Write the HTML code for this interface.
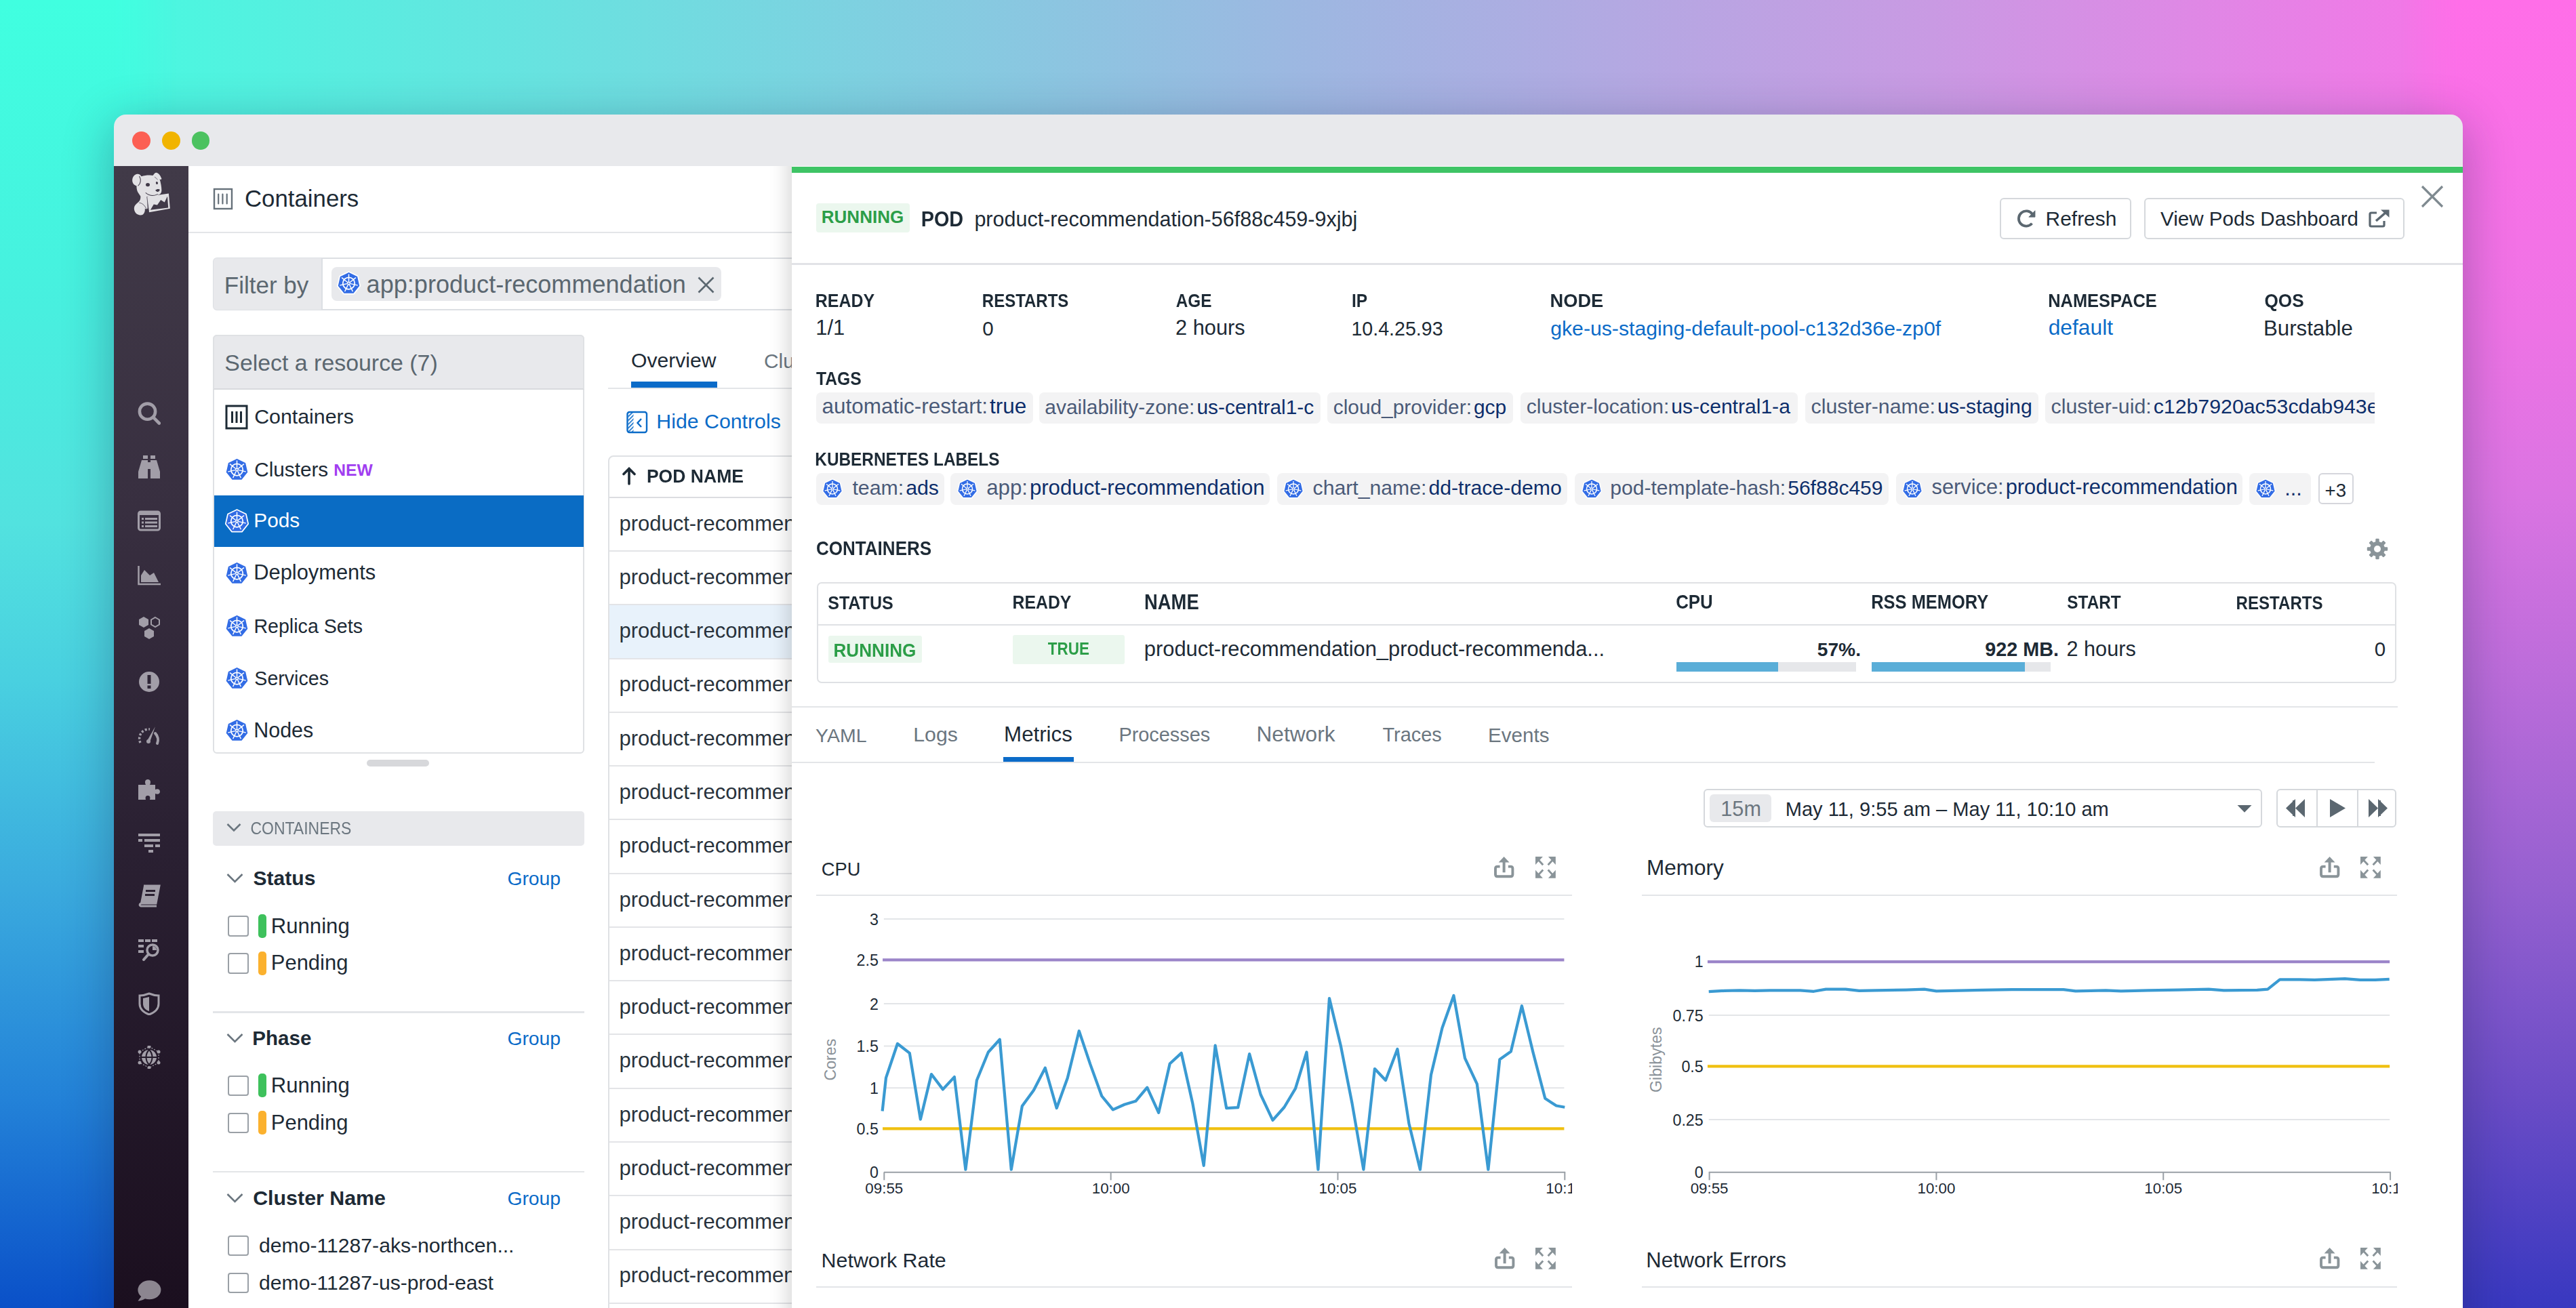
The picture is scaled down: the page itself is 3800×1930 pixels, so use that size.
<!DOCTYPE html>
<html><head><meta charset="utf-8"><title>Containers</title>
<style>
html,body{margin:0;padding:0;}
body{width:3800px;height:1930px;position:relative;overflow:hidden;background:#8fb0e0;font-family:"Liberation Sans",sans-serif;}
.a{position:absolute;}
.t{position:absolute;line-height:1;white-space:nowrap;}
</style></head><body>
<svg width="0" height="0" style="position:absolute"><symbol id="k8s" viewBox="0 0 100 100">
<path d="M50.0 3.0 L88.3 21.4 L97.8 62.9 L71.3 96.1 L28.7 96.1 L2.2 62.9 L11.7 21.4 Z" fill="#326ce5" stroke="#fff" stroke-width="5" stroke-linejoin="round"/>
<g stroke="#fff" fill="none" stroke-linecap="round">
<circle cx="50" cy="51.5" r="25" stroke-width="5"/>
<path d="M50.0 43.5 L50.0 14.5 M56.3 46.5 L78.9 28.4 M57.8 53.3 L86.1 59.7 M53.5 58.7 L66.1 84.8 M46.5 58.7 L33.9 84.8 M42.2 53.3 L13.9 59.7 M43.7 46.5 L21.1 28.4" stroke-width="4.2"/>
</g>
<circle cx="50" cy="51.5" r="7" fill="#fff"/>
<circle cx="50" cy="51.5" r="3" fill="#326ce5"/>
</symbol></svg>
<div class="a" style="left:0;top:0;width:3800px;height:200px;background:linear-gradient(90deg,#40ffe0 0%,#6fdde0 25%,#9cb8e1 50%,#c99ae3 75%,#ff6de8 100%)"></div>
<div class="a" style="left:0;top:0;width:260px;height:1930px;background:linear-gradient(180deg,#40ffe0 0%,#46f2df 20%,#52e2df 40%,#49d0e0 52%,#3aaade 68%,#2382d8 84%,#0a50c8 100%);-webkit-mask-image:linear-gradient(90deg,#000 65%,transparent 100%)"></div>
<div class="a" style="left:3540px;top:0;width:260px;height:1930px;background:linear-gradient(180deg,#ff6ee8 0%,#f871e7 12%,#ee73e5 25%,#da74e2 38%,#bb6cda 52%,#9560d0 68%,#6a4cc6 84%,#3838c0 100%);-webkit-mask-image:linear-gradient(270deg,#000 65%,transparent 100%)"></div>
<div class="a" style="left:168px;top:169px;width:3465px;height:1900px;border-radius:18px;box-shadow:0 16px 70px 4px rgba(20,30,70,0.30)"></div>
<div class="a" style="left:168px;top:169px;width:3465px;height:1800px;border-radius:18px 18px 0 0;background:#e8e9ec;overflow:hidden"></div>
<div class="a" style="left:194.8px;top:194.3px;width:26.8px;height:26.8px;border-radius:50%;background:#fc5f53"></div>
<div class="a" style="left:238.8px;top:194.3px;width:26.8px;height:26.8px;border-radius:50%;background:#f1b400"></div>
<div class="a" style="left:282.6px;top:194.3px;width:26.8px;height:26.8px;border-radius:50%;background:#4cc260"></div>
<div class="a" style="left:168.0px;top:245.0px;width:110.0px;height:1685.0px;background:linear-gradient(180deg,#413a48 0%,#382f40 30%,#2a2032 60%,#1b0f1f 100%)"></div>
<div class="a" style="left:278.0px;top:245.0px;width:890.0px;height:1685.0px;background:#fff"></div>
<svg class="a" style="left:180.0px;top:245.0px;" width="90" height="85" viewBox="0 0 1385 1308">
<g fill="#e2e1e4">
<path d="M330 185 C380 170 420 200 440 235 C520 205 640 200 700 215 L740 165 C790 120 860 180 900 290 L880 310 L855 295 C880 380 900 480 898 560 C895 610 870 640 820 655 L800 660 C720 705 640 700 575 690 L580 960 C560 985 530 975 520 960 C530 1060 480 1120 420 1115 C330 1110 270 1040 275 950 C280 900 320 860 370 820 C410 790 425 740 420 690 C400 640 345 600 335 520 C330 490 330 460 330 450 C260 430 225 370 235 300 C245 240 285 195 330 185 Z"/>
<path d="M560 695 L1060 625 L1090 965 L615 1050 Z"/>
</g>
<g fill="#413a48">
<ellipse cx="585" cy="425" rx="46" ry="40"/>
<ellipse cx="792" cy="385" rx="24" ry="32" transform="rotate(-15 792 385)"/>
<path d="M758 548 C790 515 845 518 858 540 C852 572 822 592 800 586 C780 580 760 566 758 548 Z"/>
</g>
<g stroke="#413a48" fill="none" stroke-linecap="round">
<path d="M395 235 C432 300 432 390 368 445" stroke-width="16"/>
<path d="M745 250 C770 270 790 290 805 305" stroke-width="11"/>
<path d="M540 610 C600 660 690 700 805 640" stroke-width="16"/>
<path d="M395 835 C450 840 510 880 545 960" stroke-width="12"/>
<path d="M566 700 L605 1030" stroke-width="12"/>
</g>
<path d="M645 995 L720 870 L800 885 L880 770 L965 825 L1030 690 L1050 945 Z" fill="#413a48"/>
</svg>
<svg class="a" style="left:203.0px;top:593.0px;" width="34" height="34" viewBox="0 0 34 34"><circle cx="14.5" cy="14.2" r="11.6" fill="none" stroke="#a29ea8" stroke-width="4.6"/><path d="M23.5 23.2 L31.8 31.5" stroke="#a29ea8" stroke-width="4.6" stroke-linecap="round"/></svg>
<svg class="a" style="left:203.0px;top:672.0px;" width="34" height="34" viewBox="0 0 34 34"><g fill="#a29ea8"><rect x="8" y="0" width="7" height="5"/><rect x="19" y="0" width="7" height="5"/><path d="M6 7 L15 7 L15 35 L1 35 L1 24 Z"/><path d="M19 7 L28 7 L33 24 L33 35 L19 35 Z"/><rect x="15" y="10" width="4" height="10"/></g></svg>
<svg class="a" style="left:203.0px;top:752.0px;" width="34" height="34" viewBox="0 0 34 34"><rect x="1.5" y="3" width="31" height="27" rx="3" fill="none" stroke="#a29ea8" stroke-width="3"/><rect x="1.5" y="3" width="31" height="5" fill="#a29ea8"/><g fill="#a29ea8"><rect x="6" y="12" width="3" height="3"/><rect x="11" y="12" width="18" height="3"/><rect x="6" y="17.5" width="3" height="3"/><rect x="11" y="17.5" width="18" height="3"/><rect x="6" y="23" width="3" height="3"/><rect x="11" y="23" width="18" height="3"/></g></svg>
<svg class="a" style="left:203.0px;top:831.0px;" width="34" height="34" viewBox="0 0 34 34"><path d="M1.5 4 L1.5 31 L34 31" fill="none" stroke="#a29ea8" stroke-width="2.5"/><path d="M5 28 L5 18 L10 10 L18 18 L24 14 L31 28 Z" fill="#a29ea8"/></svg>
<svg class="a" style="left:203.0px;top:909.0px;" width="34" height="34" viewBox="0 0 34 34"><g fill="#a29ea8"><path d="M9 1 L16 5 L16 13 L9 17 L2 13 L2 5 Z"/><path d="M17 18 L24 22 L24 30 L17 34 L10 30 L10 22 Z"/></g><path d="M26 2 L32 5.5 L32 12.5 L26 16 L20 12.5 L20 5.5 Z" fill="none" stroke="#a29ea8" stroke-width="2"/></svg>
<svg class="a" style="left:203.0px;top:988.6px;" width="34" height="34" viewBox="0 0 34 34"><circle cx="17" cy="17" r="15" fill="#a29ea8"/><rect x="14.5" y="7" width="5" height="13" fill="#2f2637"/><rect x="14.5" y="22.5" width="5" height="4.5" fill="#2f2637"/></svg>
<svg class="a" style="left:203.0px;top:1068.0px;" width="34" height="34" viewBox="0 0 34 34"><path d="M4 28 A14 14 0 0 1 18 8" fill="none" stroke="#a29ea8" stroke-width="3.5" stroke-dasharray="3 2.5"/><path d="M26 14 A14 14 0 0 1 29 29" fill="none" stroke="#a29ea8" stroke-width="4" stroke-linecap="round"/><path d="M14 25 L26 4 L18 27 Z" fill="#a29ea8"/><circle cx="16" cy="26" r="3" fill="#a29ea8"/></svg>
<svg class="a" style="left:203.0px;top:1147.7px;" width="34" height="34" viewBox="0 0 34 34"><path d="M1 10 L12 10 C10 6 11 2 15 2 C19 2 20 6 18 10 L26 10 L26 17 C30 15 33 17 33 20 C33 23 30 25 26 23 L26 32 L18 32 C19 28 18 26 15 26 C12 26 11 28 12 32 L1 32 Z" fill="#a29ea8"/></svg>
<svg class="a" style="left:203.0px;top:1226.5px;" width="34" height="34" viewBox="0 0 34 34"><g fill="#a29ea8"><rect x="1" y="3" width="32" height="4"/><rect x="1" y="11" width="6" height="4"/><rect x="10" y="11" width="23" height="4"/><rect x="10" y="19" width="13" height="4"/><rect x="26" y="19" width="7" height="4"/><rect x="16" y="27" width="7" height="4"/></g></svg>
<svg class="a" style="left:203.0px;top:1304.5px;" width="34" height="34" viewBox="0 0 34 34"><path d="M9 2 L32 2 L27 28 L6 28 C3 28 2 31 5 32 L28 32" fill="none" stroke="#a29ea8" stroke-width="3"/><path d="M9 2 L32 2 L27 28 L4 28 Z" fill="#a29ea8"/><g fill="#2a2030"><rect x="12" y="8" width="14" height="3"/><rect x="11" y="14" width="14" height="3"/></g></svg>
<svg class="a" style="left:203.0px;top:1384.0px;" width="34" height="34" viewBox="0 0 34 34"><g fill="#a29ea8"><rect x="1" y="2" width="8" height="4"/><rect x="11" y="2" width="8" height="4"/><rect x="21" y="2" width="8" height="4"/><rect x="1" y="10" width="8" height="4"/><rect x="1" y="18" width="8" height="4"/></g><circle cx="22" cy="18" r="8" fill="none" stroke="#a29ea8" stroke-width="3.5"/><path d="M16 24 L9 32" stroke="#a29ea8" stroke-width="4" stroke-linecap="round"/><path d="M22 12 A6 6 0 0 1 28 18 L22 18 Z" fill="#a29ea8"/></svg>
<svg class="a" style="left:203.0px;top:1463.5px;" width="34" height="34" viewBox="0 0 34 34"><path d="M17 2 C22 4 27 5 31 5 L31 17 C31 25 25 30 17 33 C9 30 3 25 3 17 L3 5 C7 5 12 4 17 2 Z" fill="none" stroke="#a29ea8" stroke-width="3"/><path d="M17 7 L17 28 C11 26 8 22 8 17 L8 9 Z" fill="#a29ea8"/></svg>
<svg class="a" style="left:203.0px;top:1543.0px;" width="34" height="34" viewBox="0 0 34 34"><circle cx="17" cy="17" r="11" fill="#a29ea8"/><path d="M6 17 L28 17 M17 6 C11 12 11 22 17 28 M17 6 C23 12 23 22 17 28" stroke="#231a2a" stroke-width="2" fill="none"/><g fill="#a29ea8"><circle cx="17" cy="1.5" r="2.5"/><circle cx="17" cy="32.5" r="2.5"/><circle cx="3" cy="9" r="2.5"/><circle cx="31" cy="9" r="2.5"/><circle cx="3" cy="25" r="2.5"/><circle cx="31" cy="25" r="2.5"/></g><path d="M17 1.5 L31 9 L31 25 L17 32.5 L3 25 L3 9 Z" fill="none" stroke="#a29ea8" stroke-width="1.2" stroke-dasharray="2 2"/></svg>
<svg class="a" style="left:200.0px;top:1885.0px;" width="40" height="40" viewBox="0 0 40 40"><ellipse cx="20.4" cy="18.3" rx="17" ry="14" fill="#8c8690"/><path d="M9 27 L3.5 34.5 C9 34.5 13 32 16 30 Z" fill="#8c8690"/></svg>
<svg class="a" style="left:313.0px;top:276.0px;" width="32" height="35" viewBox="0 0 32 35"><rect x="3" y="3" width="26" height="29" fill="none" stroke="#66717a" stroke-width="2.4"/><g stroke="#66717a" stroke-width="2.2" stroke-linecap="round"><path d="M9.2 10.5 V24.5 M15.4 10.5 V24.5 M21.7 10.5 V24.5"/></g></svg>
<div class="t" style="left:360.9px;top:276.0px;font-size:34.82px;color:#1d2a35;font-weight:400;">Containers</div>
<div class="a" style="left:278.0px;top:341.5px;width:890.0px;height:2.0px;background:#e3e5e8"></div>
<div class="a" style="left:314.0px;top:380.0px;width:986.0px;height:78.0px;border:2px solid #dcdfe3;border-radius:6px;box-sizing:border-box;background:#fff"></div>
<div class="a" style="left:315.0px;top:381.0px;width:159.0px;height:76.0px;background:#e8e9ec;border-radius:5px 0 0 5px;border-right:2px solid #dcdfe3"></div>
<div class="t" style="left:330.8px;top:402.9px;font-size:34.99px;color:#5b6770;font-weight:400;">Filter by</div>
<div class="a" style="left:489.0px;top:394.0px;width:575.0px;height:50.0px;background:#e8e9ec;border-radius:8px"></div>
<svg class="a" style="left:497.4px;top:400.1px" width="35" height="35" viewBox="0 0 100 100"><use href="#k8s"/></svg>
<div class="t" style="left:540.6px;top:401.9px;font-size:36.08px;color:#5b6770;font-weight:400;">app:product-recommendation</div>
<svg class="a" style="left:1028.0px;top:407.0px;" width="27" height="27" viewBox="0 0 27 27"><path d="M2.5 2.5 L24.5 24.5 M24.5 2.5 L2.5 24.5" stroke="#5b6770" stroke-width="2.6"/></svg>
<div class="a" style="left:314.0px;top:493.5px;width:548.0px;height:618.0px;border:2px solid #dfe1e4;border-radius:6px;box-sizing:border-box;background:#fff"></div>
<div class="a" style="left:314.0px;top:493.5px;width:548.0px;height:81.0px;background:#e8e9ec;border-radius:6px 6px 0 0;border:2px solid #dfe1e4;border-bottom:2px solid #d8dadd;box-sizing:border-box"></div>
<div class="t" style="left:331.3px;top:519.2px;font-size:33.89px;color:#5b6770;font-weight:400;">Select a resource (7)</div>
<div class="a" style="left:315.5px;top:731.0px;width:545.0px;height:75.5px;background:#0a6cc4"></div>
<div class="t" style="left:375.2px;top:599.8px;font-size:30.34px;color:#1d2a35;font-weight:400;">Containers</div>
<svg class="a" style="left:332.0px;top:596.5px;" width="35" height="37" viewBox="0 0 35 37"><rect x="2" y="2" width="30" height="33" fill="none" stroke="#1d2a35" stroke-width="3"/><g stroke="#1d2a35" stroke-width="3"><path d="M10.5 10 V27 M17 10 V27 M23.5 10 V27"/></g></svg>
<div class="t" style="left:375.2px;top:677.5px;font-size:29.72px;color:#1d2a35;font-weight:400;">Clusters</div>
<svg class="a" style="left:331.8px;top:674.8px" width="35" height="35" viewBox="0 0 100 100"><use href="#k8s"/></svg>
<div class="t" style="left:374.3px;top:753.2px;font-size:29.77px;color:#fff;font-weight:400;">Pods</div>
<svg class="a" style="left:331.8px;top:750.5px" width="35" height="35" viewBox="0 0 100 100"><use href="#k8s"/></svg>
<div class="t" style="left:374.2px;top:829.8px;font-size:30.86px;color:#1d2a35;font-weight:400;">Deployments</div>
<svg class="a" style="left:331.8px;top:828.0px" width="35" height="35" viewBox="0 0 100 100"><use href="#k8s"/></svg>
<div class="t" style="left:374.4px;top:909.9px;font-size:28.62px;color:#1d2a35;font-weight:400;">Replica Sets</div>
<svg class="a" style="left:331.8px;top:906.2px" width="35" height="35" viewBox="0 0 100 100"><use href="#k8s"/></svg>
<div class="t" style="left:375.3px;top:986.7px;font-size:28.61px;color:#1d2a35;font-weight:400;">Services</div>
<svg class="a" style="left:331.8px;top:983.0px" width="35" height="35" viewBox="0 0 100 100"><use href="#k8s"/></svg>
<div class="t" style="left:374.3px;top:1061.8px;font-size:30.43px;color:#1d2a35;font-weight:400;">Nodes</div>
<svg class="a" style="left:331.8px;top:1059.7px" width="35" height="35" viewBox="0 0 100 100"><use href="#k8s"/></svg>
<div class="t" style="left:492.3px;top:681.8px;font-size:24.65px;color:#a13ef0;font-weight:700;">NEW</div>
<div class="a" style="left:541.0px;top:1121.0px;width:92.0px;height:9.5px;background:#d7d8db;border-radius:5px"></div>
<div class="a" style="left:314.0px;top:1197.0px;width:548.0px;height:51.0px;background:#e8e9ec;border-radius:5px"></div>
<svg class="a" style="left:333.0px;top:1212.0px;" width="24" height="17" viewBox="0 0 24 17"><path d="M2.5 4 L12 13.5 L21.5 4" fill="none" stroke="#6b767f" stroke-width="2.6"/></svg>
<div class="t" style="left:369.5px;top:1211.5px;font-size:22.97px;color:#6b767f;font-weight:400;transform:scaleY(1.13);transform-origin:0 85%;">CONTAINERS</div>
<svg class="a" style="left:333.0px;top:1287.4px;" width="27" height="17" viewBox="0 0 27 17"><path d="M2.5 3 L13.5 14 L24.5 3" fill="none" stroke="#6b767f" stroke-width="2.6"/></svg>
<div class="t" style="left:373.5px;top:1280.8px;font-size:30.07px;color:#1d2a35;font-weight:700;">Status</div>
<div class="t" style="left:748.4px;top:1282.3px;font-size:28.33px;color:#0b6bc8;font-weight:400;">Group</div>
<div class="a" style="left:336.0px;top:1351.2px;width:31.0px;height:30.5px;border:2px solid #9aa0a6;border-radius:4px;box-sizing:border-box;background:#fff"></div>
<div class="a" style="left:381.0px;top:1348.7px;width:12.0px;height:35.0px;background:#3ec15c;border-radius:5px"></div>
<div class="t" style="left:399.8px;top:1350.7px;font-size:31.12px;color:#1d2a35;font-weight:400;">Running</div>
<div class="a" style="left:336.0px;top:1406.2px;width:31.0px;height:30.5px;border:2px solid #9aa0a6;border-radius:4px;box-sizing:border-box;background:#fff"></div>
<div class="a" style="left:381.0px;top:1403.7px;width:12.0px;height:35.0px;background:#fbb12e;border-radius:5px"></div>
<div class="t" style="left:399.8px;top:1405.9px;font-size:30.96px;color:#1d2a35;font-weight:400;">Pending</div>
<div class="a" style="left:314.0px;top:1492.0px;width:548.0px;height:2.5px;background:#e3e5e8"></div>
<svg class="a" style="left:333.0px;top:1523.0px;" width="27" height="17" viewBox="0 0 27 17"><path d="M2.5 3 L13.5 14 L24.5 3" fill="none" stroke="#6b767f" stroke-width="2.6"/></svg>
<div class="t" style="left:372.3px;top:1516.9px;font-size:29.58px;color:#1d2a35;font-weight:700;">Phase</div>
<div class="t" style="left:748.4px;top:1517.9px;font-size:28.33px;color:#0b6bc8;font-weight:400;">Group</div>
<div class="a" style="left:336.0px;top:1586.8px;width:31.0px;height:30.5px;border:2px solid #9aa0a6;border-radius:4px;box-sizing:border-box;background:#fff"></div>
<div class="a" style="left:381.0px;top:1584.3px;width:12.0px;height:35.0px;background:#3ec15c;border-radius:5px"></div>
<div class="t" style="left:399.8px;top:1586.3px;font-size:31.12px;color:#1d2a35;font-weight:400;">Running</div>
<div class="a" style="left:336.0px;top:1641.8px;width:31.0px;height:30.5px;border:2px solid #9aa0a6;border-radius:4px;box-sizing:border-box;background:#fff"></div>
<div class="a" style="left:381.0px;top:1639.3px;width:12.0px;height:35.0px;background:#fbb12e;border-radius:5px"></div>
<div class="t" style="left:399.8px;top:1641.5px;font-size:30.96px;color:#1d2a35;font-weight:400;">Pending</div>
<div class="a" style="left:314.0px;top:1727.5px;width:548.0px;height:2.5px;background:#e3e5e8"></div>
<svg class="a" style="left:333.0px;top:1758.7px;" width="27" height="17" viewBox="0 0 27 17"><path d="M2.5 3 L13.5 14 L24.5 3" fill="none" stroke="#6b767f" stroke-width="2.6"/></svg>
<div class="t" style="left:373.2px;top:1751.9px;font-size:30.39px;color:#1d2a35;font-weight:700;">Cluster Name</div>
<div class="t" style="left:748.4px;top:1753.6px;font-size:28.33px;color:#0b6bc8;font-weight:400;">Group</div>
<div class="a" style="left:336.0px;top:1822.5px;width:31.0px;height:30.5px;border:2px solid #9aa0a6;border-radius:4px;box-sizing:border-box;background:#fff"></div>
<div class="t" style="left:382.1px;top:1822.9px;font-size:30.15px;color:#1d2a35;font-weight:400;">demo-11287-aks-northcen...</div>
<div class="a" style="left:336.0px;top:1877.5px;width:31.0px;height:30.5px;border:2px solid #9aa0a6;border-radius:4px;box-sizing:border-box;background:#fff"></div>
<div class="t" style="left:382.1px;top:1877.9px;font-size:30.12px;color:#1d2a35;font-weight:400;">demo-11287-us-prod-east</div>
<div class="t" style="left:931.0px;top:517.4px;font-size:30.12px;color:#1d2a35;font-weight:400;">Overview</div>
<div class="t" style="left:1127.1px;top:517.7px;font-size:29.8px;color:#6b767f;font-weight:400;">Clusters</div>
<div class="a" style="left:930.8px;top:563.3px;width:127.2px;height:8.7px;background:#0b6bc8"></div>
<div class="a" style="left:897.0px;top:572.0px;width:271.0px;height:2.0px;background:#e3e5e8"></div>
<svg class="a" style="left:923.0px;top:606.0px;" width="33" height="34" viewBox="0 0 33 34"><defs><pattern id="hatch" width="4" height="4" patternUnits="userSpaceOnUse" patternTransform="rotate(45)"><rect width="1.6" height="4" fill="#0b6bc8"/></pattern></defs><rect x="2.5" y="2" width="28.5" height="30" rx="3" fill="none" stroke="#0b6bc8" stroke-width="2.4"/><rect x="3.5" y="3" width="8" height="28" fill="url(#hatch)"/><path d="M23 12 L17.5 18 L23 24" fill="none" stroke="#0b6bc8" stroke-width="2.4"/></svg>
<div class="t" style="left:968.3px;top:607.2px;font-size:30.3px;color:#0b6bc8;font-weight:400;">Hide Controls</div>
<div class="a" style="left:897.0px;top:671.5px;width:403.0px;height:1318.5px;border:2px solid #dfe1e4;border-radius:8px;box-sizing:border-box;background:#fff"></div>
<svg class="a" style="left:917.0px;top:689.0px;" width="22" height="27" viewBox="0 0 22 27"><path d="M11 25 V3 M3 10.5 L11 2.5 L19 10.5" fill="none" stroke="#1d2a35" stroke-width="3.6" stroke-linecap="round"/></svg>
<div class="t" style="left:953.9px;top:690.4px;font-size:26.55px;color:#1d2a35;font-weight:700;transform:scaleY(1.05);transform-origin:0 85%;">POD NAME</div>
<div class="a" style="left:899.0px;top:733.0px;width:269.0px;height:2.0px;background:#dcdde1"></div>
<div class="a" style="left:899.0px;top:812.1px;width:269.0px;height:2.0px;background:#e3e4e7"></div>
<div class="t" style="left:913.5px;top:756.7px;font-size:30.98px;color:#28323c;font-weight:400;">product-recommendation-56f88c459</div>
<div class="a" style="left:899.0px;top:891.4px;width:269.0px;height:2.0px;background:#e3e4e7"></div>
<div class="t" style="left:913.5px;top:835.9px;font-size:30.98px;color:#28323c;font-weight:400;">product-recommendation-56f88c459</div>
<div class="a" style="left:899.0px;top:893.0px;width:269.0px;height:79.3px;background:#e8f2fb"></div>
<div class="a" style="left:899.0px;top:970.6px;width:269.0px;height:2.0px;background:#e3e4e7"></div>
<div class="t" style="left:913.5px;top:915.2px;font-size:30.98px;color:#28323c;font-weight:400;">product-recommendation-56f88c459</div>
<div class="a" style="left:899.0px;top:1049.9px;width:269.0px;height:2.0px;background:#e3e4e7"></div>
<div class="t" style="left:913.5px;top:994.4px;font-size:30.98px;color:#28323c;font-weight:400;">product-recommendation-56f88c459</div>
<div class="a" style="left:899.0px;top:1129.1px;width:269.0px;height:2.0px;background:#e3e4e7"></div>
<div class="t" style="left:913.5px;top:1073.7px;font-size:30.98px;color:#28323c;font-weight:400;">product-recommendation-56f88c459</div>
<div class="a" style="left:899.0px;top:1208.4px;width:269.0px;height:2.0px;background:#e3e4e7"></div>
<div class="t" style="left:913.5px;top:1153.0px;font-size:30.98px;color:#28323c;font-weight:400;">product-recommendation-56f88c459</div>
<div class="a" style="left:899.0px;top:1287.7px;width:269.0px;height:2.0px;background:#e3e4e7"></div>
<div class="t" style="left:913.5px;top:1232.2px;font-size:30.98px;color:#28323c;font-weight:400;">product-recommendation-56f88c459</div>
<div class="a" style="left:899.0px;top:1366.9px;width:269.0px;height:2.0px;background:#e3e4e7"></div>
<div class="t" style="left:913.5px;top:1311.5px;font-size:30.98px;color:#28323c;font-weight:400;">product-recommendation-56f88c459</div>
<div class="a" style="left:899.0px;top:1446.2px;width:269.0px;height:2.0px;background:#e3e4e7"></div>
<div class="t" style="left:913.5px;top:1390.7px;font-size:30.98px;color:#28323c;font-weight:400;">product-recommendation-56f88c459</div>
<div class="a" style="left:899.0px;top:1525.4px;width:269.0px;height:2.0px;background:#e3e4e7"></div>
<div class="t" style="left:913.5px;top:1470.0px;font-size:30.98px;color:#28323c;font-weight:400;">product-recommendation-56f88c459</div>
<div class="a" style="left:899.0px;top:1604.7px;width:269.0px;height:2.0px;background:#e3e4e7"></div>
<div class="t" style="left:913.5px;top:1549.3px;font-size:30.98px;color:#28323c;font-weight:400;">product-recommendation-56f88c459</div>
<div class="a" style="left:899.0px;top:1684.0px;width:269.0px;height:2.0px;background:#e3e4e7"></div>
<div class="t" style="left:913.5px;top:1628.5px;font-size:30.98px;color:#28323c;font-weight:400;">product-recommendation-56f88c459</div>
<div class="a" style="left:899.0px;top:1763.2px;width:269.0px;height:2.0px;background:#e3e4e7"></div>
<div class="t" style="left:913.5px;top:1707.8px;font-size:30.98px;color:#28323c;font-weight:400;">product-recommendation-56f88c459</div>
<div class="a" style="left:899.0px;top:1842.5px;width:269.0px;height:2.0px;background:#e3e4e7"></div>
<div class="t" style="left:913.5px;top:1787.0px;font-size:30.98px;color:#28323c;font-weight:400;">product-recommendation-56f88c459</div>
<div class="a" style="left:899.0px;top:1921.7px;width:269.0px;height:2.0px;background:#e3e4e7"></div>
<div class="t" style="left:913.5px;top:1866.3px;font-size:30.98px;color:#28323c;font-weight:400;">product-recommendation-56f88c459</div>
<div class="a" style="left:899.0px;top:2001.0px;width:269.0px;height:2.0px;background:#e3e4e7"></div>
<div class="t" style="left:913.5px;top:1945.6px;font-size:30.98px;color:#28323c;font-weight:400;">product-recommendation-56f88c459</div>
<div class="a" style="left:1068px;top:245px;width:2565px;height:1685px;overflow:hidden"><div class="a" style="left:100px;top:-50px;width:2465px;height:1800px;background:#fff;box-shadow:-6px 0 26px rgba(0,0,0,0.16)"></div></div>
<div class="a" style="left:1168.0px;top:245.5px;width:2465.0px;height:9.8px;background:#3ec465"></div>
<div class="a" style="left:1204.0px;top:299.5px;width:138.0px;height:43.8px;background:#ebf7ee;border-radius:4px"></div>
<div class="t" style="left:1211.8px;top:307.3px;font-size:26.03px;color:#2c9e48;font-weight:700;">RUNNING</div>
<div class="t" style="left:1358.7px;top:309.7px;font-size:28.83px;color:#1d2a35;font-weight:700;transform:scaleY(1.06);transform-origin:0 85%;">POD</div>
<div class="t" style="left:1437.4px;top:308.2px;font-size:30.53px;color:#1d2a35;font-weight:400;">product-recommendation-56f88c459-9xjbj</div>
<div class="a" style="left:2950.0px;top:292.0px;width:194.0px;height:61.0px;border:2px solid #d5d8dc;border-radius:6px;box-sizing:border-box;background:#fff"></div>
<svg class="a" style="left:2972.0px;top:304.0px;" width="34" height="34" viewBox="0 0 34 34"><path d="M25.5 25.6 A11.1 11.1 0 1 1 26.1 12.1" fill="none" stroke="#5b6770" stroke-width="3.8"/><path d="M30 6.8 L30 16.2 L20.8 16.2 Z" fill="#5b6770" stroke="#5b6770" stroke-width="0.8" stroke-linejoin="round"/></svg>
<div class="t" style="left:3017.6px;top:307.8px;font-size:29.91px;color:#1d2a35;font-weight:400;">Refresh</div>
<div class="a" style="left:3163.0px;top:292.0px;width:384.0px;height:61.0px;border:2px solid #d5d8dc;border-radius:6px;box-sizing:border-box;background:#fff"></div>
<div class="t" style="left:3187.1px;top:308.1px;font-size:29.55px;color:#1d2a35;font-weight:400;">View Pods Dashboard</div>
<svg class="a" style="left:3493.0px;top:308.0px;" width="34" height="29" viewBox="0 0 34 29"><path d="M13 6 L5 6 Q3 6 3 8 L3 24 Q3 26 5 26 L22 26 Q24 26 24 24 L24 18" fill="none" stroke="#5b6770" stroke-width="3.2"/><path d="M12 18 L27 5" stroke="#5b6770" stroke-width="3.6"/><path d="M19 1.5 L31.5 1.5 L31.5 13 Z" fill="#5b6770"/></svg>
<svg class="a" style="left:3570.0px;top:272.0px;" width="36" height="36" viewBox="0 0 36 36"><path d="M3 3 L33 33 M33 3 L3 33" stroke="#7f8a90" stroke-width="3.2"/></svg>
<div class="a" style="left:1168.0px;top:388.0px;width:2465.0px;height:3.0px;background:#e2e3e7"></div>
<div class="t" style="left:1202.8px;top:432.3px;font-size:24.96px;color:#1d2a35;font-weight:700;transform:scaleY(1.13);transform-origin:0 85%;">READY</div>
<div class="t" style="left:1203.3px;top:469.2px;font-size:30.87px;color:#1d2a35;font-weight:400;">1/1</div>
<div class="t" style="left:1448.8px;top:433.1px;font-size:24.0px;color:#1d2a35;font-weight:700;transform:scaleY(1.13);transform-origin:0 85%;">RESTARTS</div>
<div class="t" style="left:1449.2px;top:470.3px;font-size:29.5px;color:#1d2a35;font-weight:400;">0</div>
<div class="t" style="left:1734.8px;top:432.8px;font-size:24.33px;color:#1d2a35;font-weight:700;transform:scaleY(1.13);transform-origin:0 85%;">AGE</div>
<div class="t" style="left:1734.0px;top:469.2px;font-size:30.77px;color:#1d2a35;font-weight:400;">2 hours</div>
<div class="t" style="left:1993.9px;top:432.7px;font-size:24.5px;color:#1d2a35;font-weight:700;transform:scaleY(1.15);transform-origin:0 85%;">IP</div>
<div class="t" style="left:1993.4px;top:471.1px;font-size:28.61px;color:#1d2a35;font-weight:400;">10.4.25.93</div>
<div class="t" style="left:2286.5px;top:430.3px;font-size:27.27px;color:#1d2a35;font-weight:700;transform:scaleY(1.04);transform-origin:0 85%;">NODE</div>
<div class="t" style="left:2287.2px;top:469.7px;font-size:30.21px;color:#0b6bc8;font-weight:400;">gke-us-staging-default-pool-c132d36e-zp0f</div>
<div class="t" style="left:3021.2px;top:431.9px;font-size:25.44px;color:#1d2a35;font-weight:700;transform:scaleY(1.1);transform-origin:0 85%;">NAMESPACE</div>
<div class="t" style="left:3021.7px;top:468.4px;font-size:31.76px;color:#0b6bc8;font-weight:400;">default</div>
<div class="t" style="left:3340.5px;top:431.3px;font-size:26.17px;color:#1d2a35;font-weight:700;transform:scaleY(1.08);transform-origin:0 85%;">QOS</div>
<div class="t" style="left:3339.0px;top:468.9px;font-size:31.22px;color:#1d2a35;font-weight:400;">Burstable</div>
<div class="t" style="left:1204.0px;top:547.8px;font-size:24.72px;color:#1d2a35;font-weight:700;transform:scaleY(1.13);transform-origin:0 85%;">TAGS</div>
<div class="a" style="left:1168px;top:570px;width:2334.5px;height:70px;overflow:hidden">
<div class="a" style="left:36.0px;top:9px;width:320.0px;height:45.8px;background:#f3f3f4;border-radius:7px"></div>
<div class="t" style="left:44.6px;top:14.2px;font-size:31.43px;color:#4a5a78">automatic-restart:<span style="color:#0d2e6b;margin-left:3px">true</span></div>
<div class="a" style="left:364.6px;top:9px;width:415.8px;height:45.8px;background:#f3f3f4;border-radius:7px"></div>
<div class="t" style="left:373.3px;top:15.5px;font-size:29.92px;color:#4a5a78">availability-zone:<span style="color:#0d2e6b;margin-left:3px">us-central1-c</span></div>
<div class="a" style="left:790.0px;top:9px;width:274.0px;height:45.8px;background:#f3f3f4;border-radius:7px"></div>
<div class="t" style="left:798.7px;top:15.5px;font-size:29.88px;color:#4a5a78">cloud_provider:<span style="color:#0d2e6b;margin-left:3px">gcp</span></div>
<div class="a" style="left:1075.0px;top:9px;width:409.0px;height:45.8px;background:#f3f3f4;border-radius:7px"></div>
<div class="t" style="left:1083.7px;top:15.3px;font-size:30.09px;color:#4a5a78">cluster-location:<span style="color:#0d2e6b;margin-left:3px">us-central1-a</span></div>
<div class="a" style="left:1494.8px;top:9px;width:344.2px;height:45.8px;background:#f3f3f4;border-radius:7px"></div>
<div class="t" style="left:1503.5px;top:15.1px;font-size:30.30px;color:#4a5a78">cluster-name:<span style="color:#0d2e6b;margin-left:3px">us-staging</span></div>
<div class="a" style="left:1848.8px;top:9px;width:503.2px;height:45.8px;background:#f3f3f4;border-radius:7px"></div>
<div class="t" style="left:1857.5px;top:15.1px;font-size:30.30px;color:#4a5a78">cluster-uid:<span style="color:#0d2e6b;margin-left:3px">c12b7920ac53cdab943e1f</span></div>
</div>
<div class="t" style="left:1202.3px;top:666.6px;font-size:24.38px;color:#1d2a35;font-weight:700;transform:scaleY(1.14);transform-origin:0 85%;">KUBERNETES LABELS</div>
<div class="a" style="left:1204.0px;top:698.0px;width:189.4px;height:46.5px;background:#f3f3f4;border-radius:8px"></div>
<svg class="a" style="left:1213.3px;top:705.5px" width="30" height="30" viewBox="0 0 100 100"><use href="#k8s"/></svg>
<div class="t" style="left:1257.4px;top:704.6px;font-size:30.30px;color:#4a5a78">team:<span style="color:#0d2e6b;margin-left:3px">ads</span></div>
<div class="a" style="left:1402.4px;top:698.0px;width:470.6px;height:46.5px;background:#f3f3f4;border-radius:8px"></div>
<svg class="a" style="left:1411.7px;top:705.5px" width="30" height="30" viewBox="0 0 100 100"><use href="#k8s"/></svg>
<div class="t" style="left:1455.2px;top:703.9px;font-size:31.19px;color:#4a5a78">app:<span style="color:#0d2e6b;margin-left:3px">product-recommendation</span></div>
<div class="a" style="left:1883.8px;top:698.0px;width:428.2px;height:46.5px;background:#f3f3f4;border-radius:8px"></div>
<svg class="a" style="left:1893.1px;top:705.5px" width="30" height="30" viewBox="0 0 100 100"><use href="#k8s"/></svg>
<div class="t" style="left:1936.6px;top:704.7px;font-size:30.20px;color:#4a5a78">chart_name:<span style="color:#0d2e6b;margin-left:3px">dd-trace-demo</span></div>
<div class="a" style="left:2323.4px;top:698.0px;width:462.3px;height:46.5px;background:#f3f3f4;border-radius:8px"></div>
<svg class="a" style="left:2332.7px;top:705.5px" width="30" height="30" viewBox="0 0 100 100"><use href="#k8s"/></svg>
<div class="t" style="left:2375.3px;top:704.8px;font-size:30.06px;color:#4a5a78">pod-template-hash:<span style="color:#0d2e6b;margin-left:3px">56f88c459</span></div>
<div class="a" style="left:2796.5px;top:698.0px;width:511.9px;height:46.5px;background:#f3f3f4;border-radius:8px"></div>
<svg class="a" style="left:2805.8px;top:705.5px" width="30" height="30" viewBox="0 0 100 100"><use href="#k8s"/></svg>
<div class="t" style="left:2849.6px;top:704.2px;font-size:30.79px;color:#4a5a78">service:<span style="color:#0d2e6b;margin-left:3px">product-recommendation</span></div>
<div class="a" style="left:3317.8px;top:698.0px;width:91.2px;height:46.5px;background:#f3f3f4;border-radius:8px"></div>
<svg class="a" style="left:3327.1px;top:705.5px" width="30" height="30" viewBox="0 0 100 100"><use href="#k8s"/></svg>
<div class="t" style="left:3370.3px;top:704.5px;font-size:30.50px;color:#4a5a78"><span style="color:#0d2e6b;margin-left:0px">...</span></div>
<div class="a" style="left:3420.2px;top:697.6px;width:52.0px;height:46.4px;border:2px solid #d5d6dc;border-radius:6px;box-sizing:border-box;background:#fff"></div>
<div class="t" style="left:3429.6px;top:709.8px;font-size:27.62px;color:#1d2a35;font-weight:400;">+3</div>
<div class="t" style="left:1204.0px;top:797.2px;font-size:26.04px;color:#1d2a35;font-weight:700;transform:scaleY(1.12);transform-origin:0 85%;">CONTAINERS</div>
<svg class="a" style="left:3490.5px;top:793.6px;" width="32" height="32" viewBox="0 0 32 32"><g fill="#8a9499"><circle cx="16" cy="16" r="11"/><rect x="13.3" y="0.8" width="5.4" height="8" rx="1.2" transform="rotate(0 16 16)"/><rect x="13.3" y="0.8" width="5.4" height="8" rx="1.2" transform="rotate(45 16 16)"/><rect x="13.3" y="0.8" width="5.4" height="8" rx="1.2" transform="rotate(90 16 16)"/><rect x="13.3" y="0.8" width="5.4" height="8" rx="1.2" transform="rotate(135 16 16)"/><rect x="13.3" y="0.8" width="5.4" height="8" rx="1.2" transform="rotate(180 16 16)"/><rect x="13.3" y="0.8" width="5.4" height="8" rx="1.2" transform="rotate(225 16 16)"/><rect x="13.3" y="0.8" width="5.4" height="8" rx="1.2" transform="rotate(270 16 16)"/><rect x="13.3" y="0.8" width="5.4" height="8" rx="1.2" transform="rotate(315 16 16)"/></g><circle cx="16" cy="16" r="5" fill="#fff"/></svg>
<div class="a" style="left:1205.0px;top:859.0px;width:2330.0px;height:148.5px;border:2px solid #dfe1e4;border-radius:7px;box-sizing:border-box;background:#fff"></div>
<div class="t" style="left:1221.2px;top:877.7px;font-size:25.08px;color:#1d2a35;font-weight:700;transform:scaleY(1.13);transform-origin:0 85%;">STATUS</div>
<div class="t" style="left:1493.6px;top:877.9px;font-size:24.81px;color:#1d2a35;font-weight:700;transform:scaleY(1.13);transform-origin:0 85%;">READY</div>
<div class="t" style="left:1688.1px;top:875.7px;font-size:27.36px;color:#1d2a35;font-weight:700;transform:scaleY(1.13);transform-origin:0 85%;">NAME</div>
<div class="t" style="left:2472.2px;top:877.0px;font-size:25.87px;color:#1d2a35;font-weight:700;transform:scaleY(1.13);transform-origin:0 85%;">CPU</div>
<div class="t" style="left:2760.2px;top:877.3px;font-size:25.48px;color:#1d2a35;font-weight:700;transform:scaleY(1.13);transform-origin:0 85%;">RSS MEMORY</div>
<div class="t" style="left:3049.3px;top:878.3px;font-size:24.38px;color:#1d2a35;font-weight:700;transform:scaleY(1.13);transform-origin:0 85%;">START</div>
<div class="t" style="left:3298.6px;top:878.5px;font-size:24.08px;color:#1d2a35;font-weight:700;transform:scaleY(1.13);transform-origin:0 85%;">RESTARTS</div>
<div class="a" style="left:1207.0px;top:920.5px;width:2326.0px;height:2.0px;background:#dfe1e4"></div>
<div class="a" style="left:1222.0px;top:938.0px;width:138.0px;height:40.0px;background:#ebf7ee;border-radius:3px"></div>
<div class="t" style="left:1229.5px;top:947.4px;font-size:26.14px;color:#2c9e48;font-weight:700;transform:scaleY(1.08);transform-origin:0 85%;">RUNNING</div>
<div class="a" style="left:1494.4px;top:936.7px;width:164.4px;height:43.3px;background:#ebf7ee;border-radius:3px"></div>
<div class="t" style="left:1545.8px;top:948.2px;font-size:22.47px;color:#2c9e48;font-weight:700;transform:scaleY(1.15);transform-origin:0 85%;">TRUE</div>
<div class="t" style="left:1687.8px;top:943.4px;font-size:30.86px;color:#1d2a35;font-weight:400;">product-recommendation_product-recommenda...</div>
<div class="a" style="left:2473.0px;top:977.0px;width:264.5px;height:13.5px;background:#e6e7ea"></div>
<div class="a" style="left:2473.0px;top:977.0px;width:150.4px;height:13.5px;background:#5aaed8"></div>
<div class="a" style="left:2761.0px;top:977.0px;width:264.0px;height:13.5px;background:#e6e7ea"></div>
<div class="a" style="left:2761.0px;top:977.0px;width:226.4px;height:13.5px;background:#5aaed8"></div>
<div class="t" style="left:2600px;width:145px;text-align:right;top:944.4px;font-size:28.2px;font-weight:700;color:#1d2a35">57%.</div>
<div class="t" style="left:2880px;width:157px;overflow:hidden;text-align:right;top:943.9px;font-size:28.8px;font-weight:700;color:#1d2a35">922 MB.</div>
<div class="t" style="left:3048.5px;top:942.3px;font-size:30.65px;color:#1d2a35;font-weight:400;">2 hours</div>
<div class="t" style="left:3502.7px;top:943.3px;font-size:29.5px;color:#1d2a35;font-weight:400;">0</div>
<div class="a" style="left:1168.0px;top:1041.5px;width:2369.0px;height:2.0px;background:#e3e5e8"></div>
<div class="t" style="left:1203.1px;top:1070.8px;font-size:28.49px;color:#6b767f;font-weight:400;">YAML</div>
<div class="t" style="left:1347.3px;top:1069.3px;font-size:30.24px;color:#6b767f;font-weight:400;">Logs</div>
<div class="t" style="left:1481.1px;top:1068.4px;font-size:31.25px;color:#1d2a35;font-weight:400;">Metrics</div>
<div class="t" style="left:1650.4px;top:1070.4px;font-size:28.9px;color:#6b767f;font-weight:400;">Processes</div>
<div class="t" style="left:1853.5px;top:1068.1px;font-size:31.67px;color:#6b767f;font-weight:400;">Network</div>
<div class="t" style="left:2039.4px;top:1070.4px;font-size:28.95px;color:#6b767f;font-weight:400;">Traces</div>
<div class="t" style="left:2195.1px;top:1069.9px;font-size:29.56px;color:#6b767f;font-weight:400;">Events</div>
<div class="a" style="left:1480.3px;top:1116.6px;width:103.3px;height:7.6px;background:#0b6bc8"></div>
<div class="a" style="left:1168.0px;top:1124.2px;width:2334.5px;height:2.2px;background:#e3e5e8"></div>
<div class="a" style="left:2512.7px;top:1163.5px;width:824.7px;height:57.8px;border:2px solid #d5d8dc;border-radius:6px;box-sizing:border-box;background:#fff"></div>
<div class="a" style="left:2522.0px;top:1172.0px;width:91.0px;height:41.0px;background:#e8e9ec;border-radius:6px"></div>
<div class="t" style="left:2538.3px;top:1177.6px;font-size:30.67px;color:#6b767f;font-weight:400;">15m</div>
<div class="t" style="left:2633.7px;top:1180.3px;font-size:29.07px;color:#1d2a35;font-weight:400;">May 11, 9:55 am – May 11, 10:10 am</div>
<svg class="a" style="left:3299.0px;top:1186.0px;" width="24" height="14" viewBox="0 0 24 14"><path d="M1.5 2 L22.5 2 L12 12.7 Z" fill="#5b6770"/></svg>
<div class="a" style="left:3357.5px;top:1163.5px;width:177.8px;height:57.8px;border:2px solid #d5d8dc;border-radius:6px;box-sizing:border-box;background:#fff"></div>
<div class="a" style="left:3416.5px;top:1165.0px;width:2.0px;height:55.0px;background:#d5d8dc"></div>
<div class="a" style="left:3477.0px;top:1165.0px;width:2.0px;height:55.0px;background:#d5d8dc"></div>
<svg class="a" style="left:3370.0px;top:1177.0px;" width="32" height="31" viewBox="0 0 32 31"><path d="M16 2 L2 15.5 L16 29 Z M30 2 L16 15.5 L30 29 Z" fill="#5b6770"/><rect x="12" y="4" width="4" height="23" fill="#5b6770"/></svg>
<svg class="a" style="left:3435.0px;top:1177.0px;" width="28" height="31" viewBox="0 0 28 31"><path d="M2 2 L25 15.5 L2 29 Z" fill="#5b6770"/></svg>
<svg class="a" style="left:3492.0px;top:1177.0px;" width="32" height="31" viewBox="0 0 32 31"><path d="M2 2 L16 15.5 L2 29 Z M16 2 L30 15.5 L16 29 Z" fill="#5b6770"/><rect x="16" y="4" width="4" height="23" fill="#5b6770"/></svg>
<div class="t" style="left:1211.8px;top:1269.0px;font-size:27.27px;color:#1d2a35;font-weight:400;">CPU</div>
<svg class="a" style="left:2204.3px;top:1263.6px;" width="30" height="32" viewBox="0 0 30 32"><path d="M6.6 8.6 L22.6 8.6 L14.6 0 Z" fill="#8a9499"/><rect x="12.6" y="8" width="4" height="15.3" fill="#8a9499"/><path d="M8.6 14.6 H5 Q2 14.6 2 17.6 V26.2 Q2 29.2 5 29.2 H24.4 Q27.4 29.2 27.4 26.2 V17.6 Q27.4 14.6 24.4 14.6 H20.8" fill="none" stroke="#8a9499" stroke-width="3.9"/></svg>
<svg class="a" style="left:2265.0px;top:1263.6px;" width="31" height="32" viewBox="0 0 31 32"><g fill="#8a9499"><path d="M0 0 H10.9 L0 11.9 Z"/><path d="M29.8 0 H18.9 L29.8 11.9 Z"/><path d="M0 31.7 H10.9 L0 19.8 Z"/><path d="M29.8 31.7 H18.9 L29.8 19.8 Z"/></g><path d="M4 4.5 L11.2 12.2 M25.8 4.5 L18.6 12.2 M4 27.2 L11.2 19.5 M25.8 27.2 L18.6 19.5" stroke="#8a9499" stroke-width="2.9"/></svg>
<div class="a" style="left:1204.3px;top:1319.8px;width:1114.3px;height:2.2px;background:#e3e5e8"></div>
<div class="t" style="left:2428.9px;top:1265.4px;font-size:31.5px;color:#1d2a35;font-weight:400;">Memory</div>
<svg class="a" style="left:3421.6px;top:1263.6px;" width="30" height="32" viewBox="0 0 30 32"><path d="M6.6 8.6 L22.6 8.6 L14.6 0 Z" fill="#8a9499"/><rect x="12.6" y="8" width="4" height="15.3" fill="#8a9499"/><path d="M8.6 14.6 H5 Q2 14.6 2 17.6 V26.2 Q2 29.2 5 29.2 H24.4 Q27.4 29.2 27.4 26.2 V17.6 Q27.4 14.6 24.4 14.6 H20.8" fill="none" stroke="#8a9499" stroke-width="3.9"/></svg>
<svg class="a" style="left:3482.3px;top:1263.6px;" width="31" height="32" viewBox="0 0 31 32"><g fill="#8a9499"><path d="M0 0 H10.9 L0 11.9 Z"/><path d="M29.8 0 H18.9 L29.8 11.9 Z"/><path d="M0 31.7 H10.9 L0 19.8 Z"/><path d="M29.8 31.7 H18.9 L29.8 19.8 Z"/></g><path d="M4 4.5 L11.2 12.2 M25.8 4.5 L18.6 12.2 M4 27.2 L11.2 19.5 M25.8 27.2 L18.6 19.5" stroke="#8a9499" stroke-width="2.9"/></svg>
<div class="a" style="left:2422.0px;top:1319.8px;width:1114.3px;height:2.2px;background:#e3e5e8"></div>
<div class="t" style="left:1211.6px;top:1844.1px;font-size:30.42px;color:#1d2a35;font-weight:400;">Network Rate</div>
<svg class="a" style="left:2204.6px;top:1841.4px;" width="30" height="32" viewBox="0 0 30 32"><path d="M6.6 8.6 L22.6 8.6 L14.6 0 Z" fill="#8a9499"/><rect x="12.6" y="8" width="4" height="15.3" fill="#8a9499"/><path d="M8.6 14.6 H5 Q2 14.6 2 17.6 V26.2 Q2 29.2 5 29.2 H24.4 Q27.4 29.2 27.4 26.2 V17.6 Q27.4 14.6 24.4 14.6 H20.8" fill="none" stroke="#8a9499" stroke-width="3.9"/></svg>
<svg class="a" style="left:2265.0px;top:1841.4px;" width="31" height="32" viewBox="0 0 31 32"><g fill="#8a9499"><path d="M0 0 H10.9 L0 11.9 Z"/><path d="M29.8 0 H18.9 L29.8 11.9 Z"/><path d="M0 31.7 H10.9 L0 19.8 Z"/><path d="M29.8 31.7 H18.9 L29.8 19.8 Z"/></g><path d="M4 4.5 L11.2 12.2 M25.8 4.5 L18.6 12.2 M4 27.2 L11.2 19.5 M25.8 27.2 L18.6 19.5" stroke="#8a9499" stroke-width="2.9"/></svg>
<div class="a" style="left:1204.0px;top:1897.6px;width:1114.6px;height:2.2px;background:#e3e5e8"></div>
<div class="t" style="left:2428.3px;top:1843.6px;font-size:31.02px;color:#1d2a35;font-weight:400;">Network Errors</div>
<svg class="a" style="left:3421.6px;top:1841.4px;" width="30" height="32" viewBox="0 0 30 32"><path d="M6.6 8.6 L22.6 8.6 L14.6 0 Z" fill="#8a9499"/><rect x="12.6" y="8" width="4" height="15.3" fill="#8a9499"/><path d="M8.6 14.6 H5 Q2 14.6 2 17.6 V26.2 Q2 29.2 5 29.2 H24.4 Q27.4 29.2 27.4 26.2 V17.6 Q27.4 14.6 24.4 14.6 H20.8" fill="none" stroke="#8a9499" stroke-width="3.9"/></svg>
<svg class="a" style="left:3482.3px;top:1841.4px;" width="31" height="32" viewBox="0 0 31 32"><g fill="#8a9499"><path d="M0 0 H10.9 L0 11.9 Z"/><path d="M29.8 0 H18.9 L29.8 11.9 Z"/><path d="M0 31.7 H10.9 L0 19.8 Z"/><path d="M29.8 31.7 H18.9 L29.8 19.8 Z"/></g><path d="M4 4.5 L11.2 12.2 M25.8 4.5 L18.6 12.2 M4 27.2 L11.2 19.5 M25.8 27.2 L18.6 19.5" stroke="#8a9499" stroke-width="2.9"/></svg>
<div class="a" style="left:2422.0px;top:1897.6px;width:1114.3px;height:2.2px;background:#e3e5e8"></div>
<svg class="a" style="left:1190.0px;top:1240.0px;" width="1129.46" height="540.18" viewBox="0 0 2530 1210"><path d="M255 260 H2503" stroke="#e3e5e8" stroke-width="4.5"/><path d="M255 540 H2503" stroke="#e3e5e8" stroke-width="4.5"/><path d="M255 680 H2503" stroke="#e3e5e8" stroke-width="4.5"/><path d="M255 818 H2503" stroke="#e3e5e8" stroke-width="4.5"/><path d="M251 395 H2503" stroke="#9b85c9" stroke-width="9.5"/><path d="M251 953 H2503" stroke="#f0c010" stroke-width="9.5"/><path d="M255 1097 H2507" stroke="#9aa0a6" stroke-width="4.5"/><path d="M256 1097 V1123" stroke="#9aa0a6" stroke-width="4.5"/><path d="M1005 1097 V1123" stroke="#9aa0a6" stroke-width="4.5"/><path d="M1755 1097 V1123" stroke="#9aa0a6" stroke-width="4.5"/><path d="M2505 1097 V1123" stroke="#9aa0a6" stroke-width="4.5"/><text x="237" y="279" text-anchor="end" font-size="52" fill="#1d2a35" style="font-family:'Liberation Sans',sans-serif">3</text><text x="237" y="414" text-anchor="end" font-size="52" fill="#1d2a35" style="font-family:'Liberation Sans',sans-serif">2.5</text><text x="237" y="559" text-anchor="end" font-size="52" fill="#1d2a35" style="font-family:'Liberation Sans',sans-serif">2</text><text x="237" y="699" text-anchor="end" font-size="52" fill="#1d2a35" style="font-family:'Liberation Sans',sans-serif">1.5</text><text x="237" y="837" text-anchor="end" font-size="52" fill="#1d2a35" style="font-family:'Liberation Sans',sans-serif">1</text><text x="237" y="972" text-anchor="end" font-size="52" fill="#1d2a35" style="font-family:'Liberation Sans',sans-serif">0.5</text><text x="237" y="1116" text-anchor="end" font-size="52" fill="#1d2a35" style="font-family:'Liberation Sans',sans-serif">0</text><text x="256" y="1168" text-anchor="middle" font-size="50" fill="#1d2a35" style="font-family:'Liberation Sans',sans-serif">09:55</text><text x="1005" y="1168" text-anchor="middle" font-size="50" fill="#1d2a35" style="font-family:'Liberation Sans',sans-serif">10:00</text><text x="1755" y="1168" text-anchor="middle" font-size="50" fill="#1d2a35" style="font-family:'Liberation Sans',sans-serif">10:05</text><text x="2505" y="1168" text-anchor="middle" font-size="50" fill="#1d2a35" style="font-family:'Liberation Sans',sans-serif">10:10</text><text transform="translate(97 725) rotate(-90)" text-anchor="middle" font-size="52" fill="#8a9299" style="font-family:'Liberation Sans',sans-serif">Cores</text><path d="M250 895 L262 785 L300 672 L340 703 L376 922 L412 773 L450 823 L488 782 L525 1088 L562 793 L600 700 L638 658 L676 1088 L712 878 L750 826 L788 752 L826 885 L862 785 L900 630 L937 740 L975 845 L1012 890 L1050 873 L1087 862 L1125 817 L1163 900 L1200 738 L1238 703 L1275 868 L1312 1075 L1350 678 L1387 885 L1425 883 L1463 706 L1500 840 L1540 925 L1578 882 L1615 820 L1652 700 L1690 1088 L1727 522 L1765 680 L1802 868 L1840 1088 L1877 755 L1913 793 L1952 690 L1990 935 L2027 1088 L2063 775 L2100 620 L2138 513 L2175 720 L2215 805 L2252 1088 L2290 724 L2327 698 L2363 547 L2400 700 L2440 853 L2477 877 L2505 882" fill="none" stroke="#3a9ad2" stroke-width="9.5" stroke-linejoin="round"/></svg>
<svg class="a" style="left:2410.0px;top:1240.0px;" width="1127.23" height="540.18" viewBox="0 0 2525 1210"><path d="M248 578 H2498" stroke="#e3e5e8" stroke-width="4.5"/><path d="M248 923 H2498" stroke="#e3e5e8" stroke-width="4.5"/><path d="M244 401 H2498" stroke="#9b85c9" stroke-width="9.5"/><path d="M244 747 H2498" stroke="#f0c010" stroke-width="9.5"/><path d="M248 1097 H2502" stroke="#9aa0a6" stroke-width="4.5"/><path d="M250 1097 V1123" stroke="#9aa0a6" stroke-width="4.5"/><path d="M1000 1097 V1123" stroke="#9aa0a6" stroke-width="4.5"/><path d="M1750 1097 V1123" stroke="#9aa0a6" stroke-width="4.5"/><path d="M2500 1097 V1123" stroke="#9aa0a6" stroke-width="4.5"/><text x="230" y="420" text-anchor="end" font-size="52" fill="#1d2a35" style="font-family:'Liberation Sans',sans-serif">1</text><text x="230" y="597" text-anchor="end" font-size="52" fill="#1d2a35" style="font-family:'Liberation Sans',sans-serif">0.75</text><text x="230" y="766" text-anchor="end" font-size="52" fill="#1d2a35" style="font-family:'Liberation Sans',sans-serif">0.5</text><text x="230" y="942" text-anchor="end" font-size="52" fill="#1d2a35" style="font-family:'Liberation Sans',sans-serif">0.25</text><text x="230" y="1116" text-anchor="end" font-size="52" fill="#1d2a35" style="font-family:'Liberation Sans',sans-serif">0</text><text x="250" y="1168" text-anchor="middle" font-size="50" fill="#1d2a35" style="font-family:'Liberation Sans',sans-serif">09:55</text><text x="1000" y="1168" text-anchor="middle" font-size="50" fill="#1d2a35" style="font-family:'Liberation Sans',sans-serif">10:00</text><text x="1750" y="1168" text-anchor="middle" font-size="50" fill="#1d2a35" style="font-family:'Liberation Sans',sans-serif">10:05</text><text x="2500" y="1168" text-anchor="middle" font-size="50" fill="#1d2a35" style="font-family:'Liberation Sans',sans-serif">10:10</text><text transform="translate(92 725) rotate(-90)" text-anchor="middle" font-size="52" fill="#8a9299" style="font-family:'Liberation Sans',sans-serif">Gibibytes</text><path d="M248 500 L300 497 L350 496 L400 497 L450 496 L550 496 L595 499 L635 492 L700 492 L745 497 L800 496 L900 494 L960 492 L1000 498 L1050 497 L1150 495 L1250 493 L1420 493 L1460 498 L1560 496 L1610 498 L1700 496 L1800 494 L1900 492 L1950 496 L2060 495 L2095 492 L2135 460 L2200 460 L2250 461 L2350 457 L2400 461 L2450 461 L2497 459" fill="none" stroke="#3a9ad2" stroke-width="9.5" stroke-linejoin="round"/></svg>
</body></html>
